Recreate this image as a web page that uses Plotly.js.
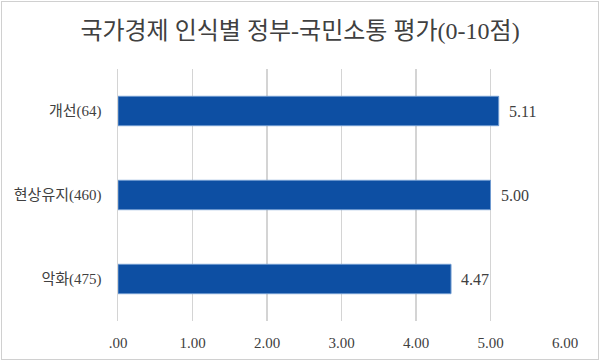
<!DOCTYPE html>
<html><head><meta charset="utf-8">
<script src="https://cdn.plot.ly/plotly-3.0.1.min.js"></script>
<style>html,body{margin:0;padding:0;background:#fff}#wrap{position:relative;width:600px;height:361px}
#frame{position:absolute;left:1px;top:1px;width:596px;height:357px;border:1px solid #d0d0d0;pointer-events:none}</style>
</head><body><div id="wrap"><div id="chart" style="width:600px;height:361px"></div><div id="frame"></div></div>
<script>
const categories = ["개선(64)", "현상유지(460)", "악화(475)"];
const values = [5.11, 5.00, 4.47];
const valueLabels = ["5.11", "5.00", "4.47"];
const tickVals = [0, 1, 2, 3, 4, 5, 6];
const tickText = [".00", "1.00", "2.00", "3.00", "4.00", "5.00", "6.00"];
const FONT = "'Liberation Serif', 'Noto Sans CJK KR', serif";
const annotations = categories.map((c, i) => ({
  x: values[i], y: c, xref: 'x', yref: 'y', text: valueLabels[i], showarrow: false,
  xanchor: 'left', yanchor: 'middle', xshift: 8,
  font: {family: FONT, size: 16, color: '#404040'}
}));
Plotly.newPlot('chart', [{
  type: 'bar', orientation: 'h', y: categories, x: values,
  marker: {color: '#0D4FA3', line: {color: '#6F9AD0', width: 1}},
  hoverinfo: 'none'
}], {
  width: 600, height: 361,
  margin: {l: 118, r: 35, t: 69, b: 40},
  paper_bgcolor: '#fff', plot_bgcolor: '#fff',
  bargap: 0.65, showlegend: false,
  annotations: annotations,
  title: {text: '국가경제 인식별 정부-국민소통 평가(0-10점)', x: 0.5, xanchor: 'center', y: 0.915, yanchor: 'middle',
    font: {family: FONT, size: 24, color: '#404040'}},
  xaxis: {range: [0, 6], tickvals: tickVals, ticktext: tickText, showgrid: true, gridcolor: '#d4d4d4', gridwidth: 1.5,
    zeroline: false, showline: false, ticks: 'outside', ticklen: 8, tickcolor: 'rgba(0,0,0,0)',
    tickfont: {family: FONT, size: 15, color: '#404040'}, fixedrange: true},
  yaxis: {autorange: 'reversed', showgrid: false, zeroline: false, showline: true, linecolor: '#d4d4d4', linewidth: 1.5,
    ticks: 'outside', ticklen: 12, tickcolor: 'rgba(0,0,0,0)',
    tickfont: {family: FONT, size: 15, color: '#404040'}, fixedrange: true}
}, {displayModeBar: false, staticPlot: true});
</script></body></html>
